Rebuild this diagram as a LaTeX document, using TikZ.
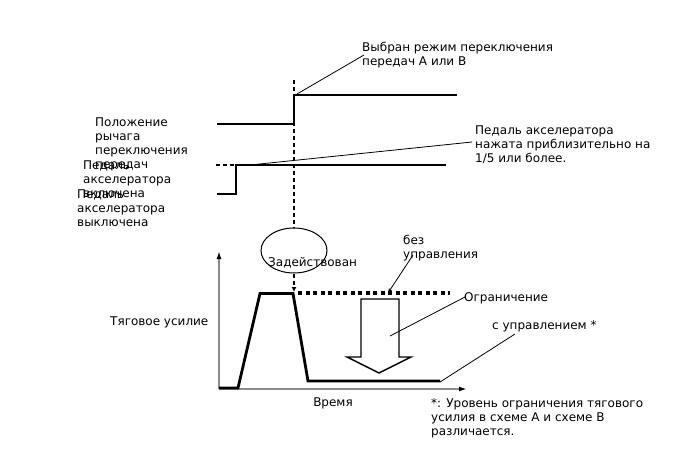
\documentclass[tikz,border=0pt]{standalone}
\usepackage{fontspec}
\setmainfont{DejaVu Sans}
\usetikzlibrary{arrows.meta,shapes.geometric}
\begin{document}
\begin{tikzpicture}[x=1pt,y=-1pt,
  lbl/.style={anchor=base west,inner sep=0pt,align=left,font=\fontsize{12}{14}\selectfont},
  sig/.style={line width=2.8pt},
  leader/.style={line width=0.8pt},
  vdash/.style={line width=1.3pt,dash pattern=on 4pt off 3pt},
  axis/.style={line width=1.6pt,draw=black!45,-{Latex[length=8pt,width=5pt,fill=black,color=black]}}]
\useasboundingbox (0,0) rectangle (688,463);
% coordinates
\coordinate (gl0) at (217,124);
\coordinate (gl1) at (294,124);
\coordinate (gl2) at (294,95);
\coordinate (gl3) at (457,95);
\coordinate (ap0) at (217,194);
\coordinate (ap1) at (236,194);
\coordinate (ap2) at (236,165);
\coordinate (ap3) at (446,165);
\coordinate (apd) at (216,165);
\coordinate (vtop) at (294,80);
\coordinate (plat) at (294,292);
% texts (anchor at baseline of last line)
\node[lbl] (t1) at (362,65) {Выбран режим переключения\\передач A или B};
\node[lbl] (t2) at (475,162) {Педаль акселератора\\нажата приблизительно на\\1/5 или более.};
\node[lbl] (t3) at (95,168) {Положение\\рычага\\переключения\\передач};
\node[lbl] (t4) at (83,197) {Педаль\\акселератора\\включена};
\node[lbl] (t5) at (77,226) {Педаль\\акселератора\\выключена};
\node[lbl] (t6) at (403,258) {без\\управления};
\node[lbl] (t7) at (464,301) {Ограничение};
\node[lbl] (t8) at (492,329) {с управлением *};
\node[lbl] (t9) at (110,325) {Тяговое усилие};
\node[lbl,anchor=base] (t10) at (333,406) {Время};
\node[lbl] (t11) at (431,435) {*: Уровень ограничения тягового\\усилия в схеме A и схеме B\\различается.};
% gear lever signal
\draw[sig] (gl0) -- (gl1) -- (gl2) -- (gl3);
% accelerator pedal signal
\draw[line width=1.2pt,dash pattern=on 4pt off 3pt] (apd) -- (ap2);
\draw[sig] (ap0) -- (ap1) -- (ap2) -- (ap3);
% leaders upper
\coordinate (l1a) at (297,94);
\coordinate (l1b) at (364,55);
\draw[leader] (l1a) -- (l1b);
\coordinate (l2a) at (250,165);
\coordinate (l2b) at (472,142);
\draw[leader] (l2a) -- (l2b);
% ellipse
\node[draw,ellipse,line width=1pt,minimum width=66pt,minimum height=45pt,inner sep=0pt] (el) at (294,250.5) {};
\node[lbl] (t12) at (268,266) {Задействован};
\draw[vdash] (vtop) -- (el.north);
\draw[vdash,-{Latex[length=5pt,width=5pt]}] (el.south) -- (plat);
% axes
\coordinate (org) at (219,389);
\coordinate (ytop) at (219,251);
\coordinate (xend) at (467,389);
\draw[axis] (org) -- (ytop);
\draw[axis] (org) -- (xend);
% force curve
\draw[sig,line join=miter] (219,388) -- (238,388) -- (260,293.5) -- (293,293.5) -- (308,381) -- (440,381);
% dotted line without control
\draw[line width=3.2pt,dash pattern=on 4pt off 3.5pt] (298,293) -- (450,293);
% big hollow arrow
\draw[line width=1.4pt,line join=miter] (361,299) -- (399,299) -- (399,357) -- (411,357) -- (379,373) -- (347,357) -- (361,357) -- cycle;
% lower leaders
\coordinate (l3a) at (413,255);
\coordinate (l3b) at (388,293);
\draw[leader,-{Stealth[length=5pt,width=4pt]}] (l3a) -- (l3b);
\coordinate (l4a) at (390,336);
\coordinate (l4b) at (465,297);
\draw[leader] (l4a) -- (l4b);
\coordinate (l5a) at (440,382);
\coordinate (l5b) at (515,334);
\draw[leader] (l5a) -- (l5b);
\end{tikzpicture}
\end{document}
